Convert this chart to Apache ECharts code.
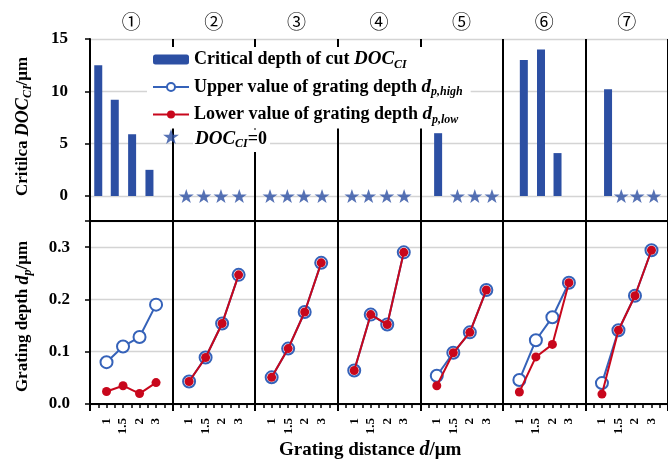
<!DOCTYPE html>
<html>
<head>
<meta charset="utf-8">
<script src="https://cdn.jsdelivr.net/npm/echarts@6/dist/echarts.min.js"></script>
<style>
html,body{margin:0;padding:0;background:#fff;}
#c{width:668px;height:464px;}
</style>
</head>
<body>
<div id="c"></div>
<script>
// ---- data ----
const panels = ['①','②','③','④','⑤','⑥','⑦'];
const distLabels = ['1','1.5','2','3'];
// critical depth of cut DOC_CI (µm); 0 = DOC_CI=0 (star), null = none
const docCI = [
  [12.5, 9.2, 5.9, 2.5],
  [0, 0, 0, 0],
  [0, 0, 0, 0],
  [0, 0, 0, 0],
  [6.0, 0, 0, 0],
  [13.0, 14.0, 4.1, null],
  [10.2, 0, 0, 0]
];
// slot of each DOC mark inside its panel
const docSlot = [
  [0.5, 1.5, 2.55, 3.6],
  [0.83, 1.89, 2.93, 4.04],
  [0.9, 1.95, 2.95, 4.05],
  [0.86, 1.87, 2.97, 4.02],
  [1.08, 2.25, 3.3, 4.34],
  [1.27, 2.31, 3.31, null],
  [1.37, 2.17, 3.13, 4.14]
];
// grating depth upper value d_p,high (µm)
const dpHigh = [
  [0.080, 0.110, 0.128, 0.190],
  [0.043, 0.089, 0.154, 0.247],
  [0.051, 0.106, 0.176, 0.270],
  [0.064, 0.171, 0.152, 0.290],
  [0.054, 0.098, 0.137, 0.218],
  [0.046, 0.122, 0.166, 0.232],
  [0.040, 0.141, 0.207, 0.294]
];
// grating depth lower value d_p,low (µm)
const dpLow = [
  [0.024, 0.035, 0.020, 0.041],
  [0.043, 0.089, 0.154, 0.247],
  [0.051, 0.106, 0.176, 0.270],
  [0.064, 0.171, 0.152, 0.290],
  [0.035, 0.098, 0.137, 0.218],
  [0.023, 0.090, 0.114, 0.232],
  [0.019, 0.141, 0.207, 0.294]
];

// ---- styles ----
const SERIF = 'Liberation Serif';
const BLUE_BAR = '#2c4fa3';
const BLUE_LINE = '#3562b9';
const RED = '#c8071c';
const GRID = '#d4d4d4';
const PW = 5; // axis units per panel
const NP = panels.length;
const STAR = 'path://M50,0 L61.8,35.1 L98.1,35.1 L68.8,56.7 L79.4,91 L50,70 L20.6,91 L31.2,56.7 L1.9,35.1 L38.2,35.1 Z';

function richWith(fs, extra) {
  const base = {
    b: {fontFamily: SERIF, fontWeight: 'bold', fontSize: fs, color: '#000', lineHeight: 22},
    i: {fontFamily: SERIF, fontWeight: 'bold', fontStyle: 'italic', fontSize: fs + 1, color: '#000', lineHeight: 22},
    s: {fontFamily: SERIF, fontWeight: 'bold', fontStyle: 'italic', fontSize: Math.round(fs * 0.68), color: '#000', lineHeight: 10, verticalAlign: 'bottom'}
  };
  for (const k in base) Object.assign(base[k], extra || {});
  return base;
}

// ---- build series data ----
const barData = [], starData = [];
docCI.forEach((row, p) => row.forEach((v, i) => {
  if (v === null) return;
  const x = p * PW + docSlot[p][i];
  if (v === 0) starData.push([x, 0]); else barData.push([x, v]);
}));

const series = [
  {name: 'bar', type: 'bar', xAxisIndex: 1, yAxisIndex: 1, data: barData,
   barWidth: 8, itemStyle: {color: BLUE_BAR}, z: 3},
  {name: 'star', type: 'scatter', xAxisIndex: 1, yAxisIndex: 1, data: starData,
   symbol: STAR, symbolSize: 15, symbolKeepAspect: true, itemStyle: {color: BLUE_BAR}, clip: false, z: 3}
];
for (let p = 0; p < NP; p++) {
  series.push({name: 'upper', type: 'line', xAxisIndex: 2, yAxisIndex: 2,
    data: dpHigh[p].map((v, i) => [p * PW + i + 1, v]),
    symbol: 'circle', symbolSize: 12, showAllSymbol: true,
    itemStyle: {color: '#fff', borderColor: BLUE_LINE, borderWidth: 2},
    lineStyle: {color: BLUE_LINE, width: 2}, z: 3});
}
for (let p = 0; p < NP; p++) {
  series.push({name: 'lower', type: 'line', xAxisIndex: 2, yAxisIndex: 2,
    data: dpLow[p].map((v, i) => [p * PW + i + 1, v]),
    symbol: 'circle', symbolSize: 9, showAllSymbol: true,
    itemStyle: {color: RED, borderColor: RED, borderWidth: 0},
    lineStyle: {color: RED, width: 2}, z: 4});
}

const legendNames = {
  bar: '{b|Critical depth of cut }{i|DOC}{s|CI}',
  upper: '{b|Upper value of grating depth }{i|d}{s|p,high}',
  lower: '{b|Lower value of grating depth }{i|d}{s|p,low}',
  star: ''
};

const GL = 90, GW = 581, TOP = 39, MID = 221, BOT = 404;

const option = {
  animation: false,
  backgroundColor: '#fff',
  title: [
    {text: '{b|Grating distance }{i|d}{b|/μm}',
     left: 279, top: 439, padding: 0,
     textStyle: {rich: richWith(19)}},
    {text: '{i|DOC}{s|CI}{b|=0}',
     left: 193, top: 128, padding: [0, 3, 2, 2], backgroundColor: '#fff',
     textStyle: {rich: richWith(18)}, z: 10}
  ],
  legend: [
    {data: ['bar', 'upper', 'lower'], orient: 'vertical', left: 147, top: 47,
     padding: [3, 8, 3, 5], itemGap: 7, itemWidth: 36, itemHeight: 10,
     backgroundColor: '#fff', selectedMode: false,
     formatter: n => legendNames[n], textStyle: {rich: richWith(18)}},
    {data: ['star'], orient: 'vertical', left: 148, top: 126,
     padding: [3, 5, 3, 5], itemWidth: 36, itemHeight: 15, selectedMode: false,
     formatter: n => legendNames[n], textStyle: {rich: richWith(18)}}
  ],
  grid: [
    {left: GL, width: GW, top: TOP, height: BOT - TOP},
    {left: GL, width: GW, top: TOP, height: 196 - TOP},
    {left: GL, width: GW, top: MID, height: BOT - MID}
  ],
  xAxis: [
    {gridIndex: 0, type: 'category', position: 'top', data: panels, boundaryGap: true,
     axisLine: {lineStyle: {color: '#000', width: 2}}, axisTick: {show: false},
     axisLabel: {fontFamily: 'Noto Sans CJK JP', fontSize: 19, color: '#000', margin: 8},
     splitLine: {show: true, lineStyle: {color: '#000', width: 2}}},
    {gridIndex: 1, type: 'value', min: 0, max: NP * PW, show: false},
    {gridIndex: 2, type: 'value', position: 'bottom', min: 0, max: NP * PW, interval: 0.5,
     axisLine: {lineStyle: {color: '#000', width: 2}},
     axisTick: {length: 4, lineStyle: {color: '#000', width: 1.5}},
     splitLine: {show: false},
     axisLabel: {rotate: 90, margin: 14, fontFamily: SERIF, fontWeight: 'bold', fontSize: 13, color: '#000',
       formatter: v => {
         const k = Math.round(v * 2);
         if (k % 2 !== 0) return '';
         const u = (k / 2) % PW;
         return u >= 1 ? distLabels[u - 1] : '';
       }}},
    {gridIndex: 2, type: 'value', position: 'bottom', min: 0, max: NP * PW, interval: PW,
     axisLine: {show: false}, axisLabel: {show: false}, splitLine: {show: false},
     axisTick: {length: 7, lineStyle: {color: '#000', width: 2}}},
    {gridIndex: 2, type: 'value', position: 'top', min: 0, max: NP * PW,
     axisLine: {lineStyle: {color: '#000', width: 2}}, axisLabel: {show: false},
     axisTick: {show: false}, splitLine: {show: false}}
  ],
  yAxis: [
    {gridIndex: 0, type: 'value', min: 0, max: 1,
     axisLine: {show: true, lineStyle: {color: '#000', width: 2}},
     axisTick: {show: false}, axisLabel: {show: false}, splitLine: {show: false}},
    {gridIndex: 1, type: 'value', min: 0, max: 15, interval: 5,
     axisLine: {show: false},
     axisTick: {show: true, length: 5, lineStyle: {color: '#000', width: 1.5}},
     axisLabel: {fontFamily: SERIF, fontWeight: 'bold', fontSize: 17, color: '#000', margin: 22},
     splitLine: {show: true, lineStyle: {color: GRID, width: 1.3}},
     name: '{b|Critilca }{i|DOC}{s|CI}{b|/μm}', nameLocation: 'middle', nameRotate: 90, nameGap: 56,
     nameTextStyle: {rich: richWith(17), padding: [0, 18, 0, 0]}},
    {gridIndex: 2, type: 'value', min: 0, max: 0.35, interval: 0.1,
     axisLine: {show: false},
     axisTick: {show: true, length: 5, lineStyle: {color: '#000', width: 1.5}},
     axisLabel: {fontFamily: SERIF, fontWeight: 'bold', fontSize: 17, color: '#000', margin: 20,
       formatter: v => Math.abs(v * 10 - Math.round(v * 10)) < 1e-6 ? v.toFixed(1) : ''},
     splitLine: {show: true, lineStyle: {color: GRID, width: 1.3}},
     name: '{b|Grating depth }{i|d}{s|p}{b|/μm}', nameLocation: 'middle', nameRotate: 90, nameGap: 56,
     nameTextStyle: {rich: richWith(17), padding: [0, 8, 0, 0]}}
  ],
  series: series
};

const chart = echarts.init(document.getElementById('c'), null, {renderer: 'canvas'});
chart.setOption(option);
</script>
</body>
</html>
